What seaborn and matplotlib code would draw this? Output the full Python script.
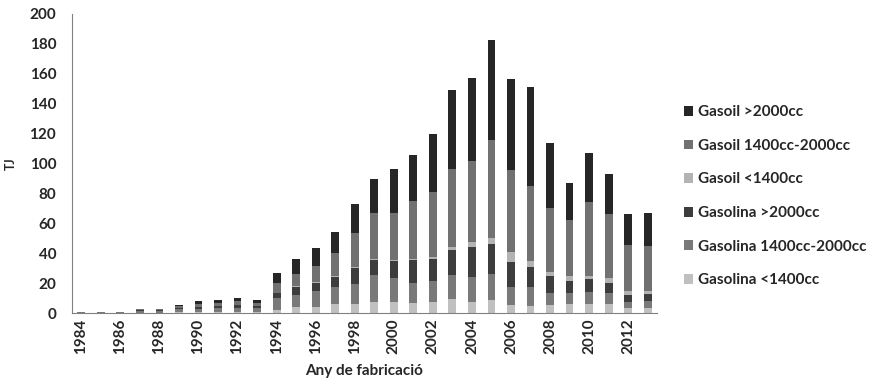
import numpy as np
import pandas as pd
import matplotlib
matplotlib.use("Agg")
import matplotlib.pyplot as plt
import seaborn as sns

# ---------------------------------------------------------------
# Datos (TJ por año de fabricación y tipo de vehículo)
# ---------------------------------------------------------------
years = list(range(1984, 2014))

gasolina_lt1400 = [0.1, 0.1, 0.1, 0.2, 0.2, 0.4, 0.5, 0.6, 0.8, 0.6,
                   2.0, 4.2, 4.2, 6.0, 6.0, 7.1, 7.1, 6.9, 7.1, 9.4,
                   7.1, 8.7, 5.3, 4.7, 5.3, 6.0, 6.0, 6.0, 3.1, 3.1]
gasolina_mid = [0.4, 0.4, 0.4, 1.2, 1.2, 2.0, 2.5, 2.8, 2.8, 3.0,
                8.0, 7.8, 10.7, 11.2, 13.4, 18.3, 16.1, 12.9, 14.5, 16.0,
                16.7, 17.1, 11.9, 12.5, 8.3, 7.6, 7.8, 7.2, 4.5, 5.1]
gasolina_gt2000 = [0.3, 0.3, 0.3, 0.6, 0.6, 1.0, 1.2, 1.3, 1.6, 1.2,
                   3.4, 5.6, 5.4, 7.1, 10.9, 10.0, 11.5, 15.6, 14.3, 16.7,
                   20.1, 20.3, 16.7, 13.3, 11.3, 8.0, 8.7, 7.1, 4.4, 4.5]
gasoil_lt1400 = [0.0, 0.0, 0.0, 0.0, 0.0, 0.0, 0.0, 0.0, 0.1, 0.0,
                 0.3, 0.4, 0.5, 0.5, 0.5, 0.5, 0.5, 0.5, 1.7, 1.8,
                 3.7, 4.2, 7.0, 4.2, 2.7, 3.3, 2.2, 2.9, 2.9, 2.2]
gasoil_mid = [0.1, 0.1, 0.1, 0.4, 0.4, 1.2, 1.8, 2.0, 2.4, 2.2,
              6.2, 8.1, 10.6, 15.1, 22.9, 31.1, 31.4, 39.1, 43.4, 52.3,
              53.9, 65.7, 54.6, 50.3, 42.7, 37.2, 49.7, 42.9, 30.5, 29.9]
gasoil_gt2000 = [0.1, 0.1, 0.1, 0.3, 0.3, 0.7, 2.0, 2.0, 2.5, 1.7,
                 7.1, 9.8, 12.2, 14.4, 19.1, 22.3, 30.0, 30.5, 39.0, 53.2,
                 55.3, 66.4, 60.8, 65.8, 43.1, 24.5, 32.7, 26.8, 20.6, 21.8]

# orden de la leyenda (el primero queda arriba en la pila)
series_names = ["Gasoil >2000cc", "Gasoil 1400cc-2000cc", "Gasoil <1400cc",
                "Gasolina >2000cc", "Gasolina 1400cc-2000cc", "Gasolina <1400cc"]
series_values = [gasoil_gt2000, gasoil_mid, gasoil_lt1400,
                 gasolina_gt2000, gasolina_mid, gasolina_lt1400]
colors = ["#262626", "#717171", "#b3b3b3", "#3d3d3d", "#797979", "#c0c0c0"]

df = pd.concat([pd.DataFrame({"Any": years, "Tipus": name, "TJ": vals})
                for name, vals in zip(series_names, series_values)],
               ignore_index=True)

# ---------------------------------------------------------------
# Gráfico
# ---------------------------------------------------------------
sns.set_style("white")
plt.rcParams["font.family"] = ["Lato", "DejaVu Sans"]
plt.rcParams["font.weight"] = "bold"

fig = plt.figure(figsize=(8.69, 3.85), dpi=100)
ax = fig.add_axes([0.0823, 0.187, 0.6743, 0.777])

sns.histplot(data=df, x="Any", weights="TJ", hue="Tipus", hue_order=series_names,
             multiple="stack", discrete=True, shrink=0.4, palette=colors,
             alpha=1, linewidth=0, ax=ax)

ax.set_xlim(1983.5, 2013.5)
ax.set_ylim(0, 200)
ax.set_yticks(range(0, 201, 20))
ax.set_xticks(range(1984, 2013, 2))
ax.set_xticks(np.arange(1983.5, 2014, 1), minor=True)
ax.tick_params(axis="x", which="major", length=0, rotation=90, labelsize=11, pad=4)
ax.tick_params(axis="x", which="minor", length=4, width=0.8, color="#808080", direction="out")
ax.tick_params(axis="y", length=4, width=0.8, color="#808080", direction="out", labelsize=11, pad=7)
for lab in ax.get_xticklabels() + ax.get_yticklabels():
    lab.set_fontweight("bold")

sns.despine(ax=ax)
for s in ["left", "bottom"]:
    ax.spines[s].set_color("#808080")
    ax.spines[s].set_linewidth(0.8)

ax.set_xlabel("Any de fabricació", fontsize=11, fontweight="bold", labelpad=7)
ax.set_ylabel("TJ", fontsize=9, fontweight="bold", labelpad=9)

sns.move_legend(ax, loc="upper left", bbox_to_anchor=(1.022, 0.74), frameon=False,
                title=None, fontsize=11, labelspacing=1.28, handlelength=0.6,
                handleheight=0.6, handletextpad=0.3)
for t in ax.get_legend().get_texts():
    t.set_fontweight("bold")

plt.savefig("out.png", dpi=100)
